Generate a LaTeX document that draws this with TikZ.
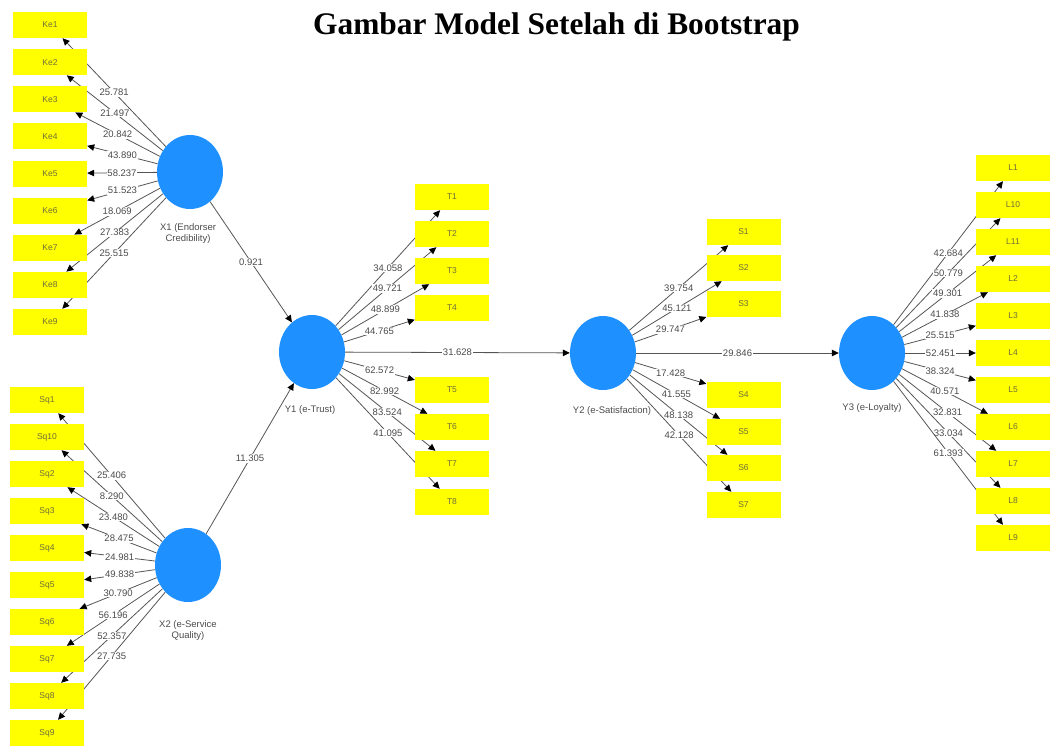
\documentclass[tikz,border=0pt]{standalone}
\usepackage{fontspec}
\setmainfont{Liberation Serif}
\setsansfont{Liberation Sans}
\usetikzlibrary{arrows.meta,backgrounds,shapes.geometric}

\definecolor{lvblue}{RGB}{30,144,255}
\definecolor{mvyellow}{RGB}{255,255,0}
\definecolor{mvtext}{RGB}{110,110,60}
\definecolor{pathgray}{RGB}{85,85,85}
\definecolor{valgray}{RGB}{75,75,75}

\begin{document}
\begin{tikzpicture}[x=1pt,y=-1pt,
    lv/.style={ellipse, fill=lvblue, minimum width=66pt, minimum height=74pt, inner sep=0pt},
    mv/.style={rectangle, fill=mvyellow, minimum width=74pt, minimum height=26pt, inner sep=0pt,
        font=\sffamily\fontsize{8.5}{9}\selectfont, text=mvtext},
    lvname/.style={font=\sffamily\fontsize{9.5}{11}\selectfont, text=valgray, align=center},
    val/.style={fill=white, inner sep=0.8pt, font=\sffamily\fontsize{9.5}{10}\selectfont, text=valgray},
    load/.style={draw=pathgray, line width=0.8pt, -{Triangle[length=7pt,width=6.5pt,color=black]}}]
    \useasboundingbox (0,0) rectangle (1051,745);
    % Title
        \node[font=\bfseries\fontsize{31.4}{34}\selectfont, anchor=base] (title) at (556.5,34)
            {Gambar Model Setelah di Bootstrap};
    % Define latent variables
        \node[lv] (x1) at (190,172) {};
        \node[lv] (x2) at (188,565) {};
        \node[lv] (y1) at (312,352) {};
        \node[lv] (y2) at (603,353) {};
        \node[lv] (y3) at (872,353) {};
        \node[lvname] (x1name) at (188,234) {X1 (Endorser\\Credibility)};
        \node[lvname] (x2name) at (188,631) {X2 (e-Service\\Quality)};
        \node[lvname] (y1name) at (310,410) {Y1 (e-Trust)};
        \node[lvname] (y2name) at (612,411) {Y2 (e-Satisfaction)};
        \node[lvname] (y3name) at (872,408) {Y3 (e-Loyalty)};
    % Define indicators
        \foreach \i in {1,...,9}
            \node[mv] (ke\i) at (50,{25+37.125*(\i-1)}) {Ke\i};
        \foreach \i [count=\n] in {1,10,2,3,4,5,6,7,8,9}
            \node[mv] (sq\i) at (47,{400+37*(\n-1)}) {Sq\i};
        \foreach \i/\y in {1/197,2/234,3/271,4/308,5/390,6/427,7/464,8/502}
            \node[mv] (t\i) at (452,\y) {T\i};
        \foreach \i/\y in {1/232,2/268,3/304,4/395,5/432,6/468,7/505}
            \node[mv] (s\i) at (743.5,\y) {S\i};
        \foreach \i [count=\n] in {1,10,11,2,3,4,5,6,7,8,9}
            \node[mv] (l\i) at (1013,{168+37*(\n-1)}) {L\i};
    % Draw arrows
    \begin{scope}[on background layer]
        \draw[load] (x1) -- node[val] {0.921} (y1);
        \draw[load] (x2) -- node[val] {11.305} (y1);
        \draw[load] (y1) -- node[val] {31.628} (y2);
        \draw[load] (y2) -- node[val] {29.846} (y3);
        \foreach \i/\v in {1/25.781,2/21.497,3/20.842,4/43.890,5/58.237,6/51.523,7/18.069,8/27.383,9/25.515}
            \draw[load] (x1) -- node[val] {\v} (ke\i);
        \foreach \i/\v in {1/25.406,10/8.290,2/23.480,3/28.475,4/24.981,5/49.838,6/30.790,7/56.196,8/52.357,9/27.735}
            \draw[load] (x2) -- node[val] {\v} (sq\i);
        \foreach \i/\v in {1/34.058,2/49.721,3/48.899,4/44.765,5/62.572,6/82.992,7/83.524,8/41.095}
            \draw[load] (y1) -- node[val] {\v} (t\i);
        \foreach \i/\v in {1/39.754,2/45.121,3/29.747,4/17.428,5/41.555,6/48.138,7/42.128}
            \draw[load] (y2) -- node[val] {\v} (s\i);
        \foreach \i/\v in {1/42.684,10/50.779,11/49.301,2/41.838,3/25.515,4/52.451,5/38.324,6/40.571,7/32.831,8/33.034,9/61.393}
            \draw[load] (y3) -- node[val] {\v} (l\i);
    \end{scope}
\end{tikzpicture}
\end{document}
